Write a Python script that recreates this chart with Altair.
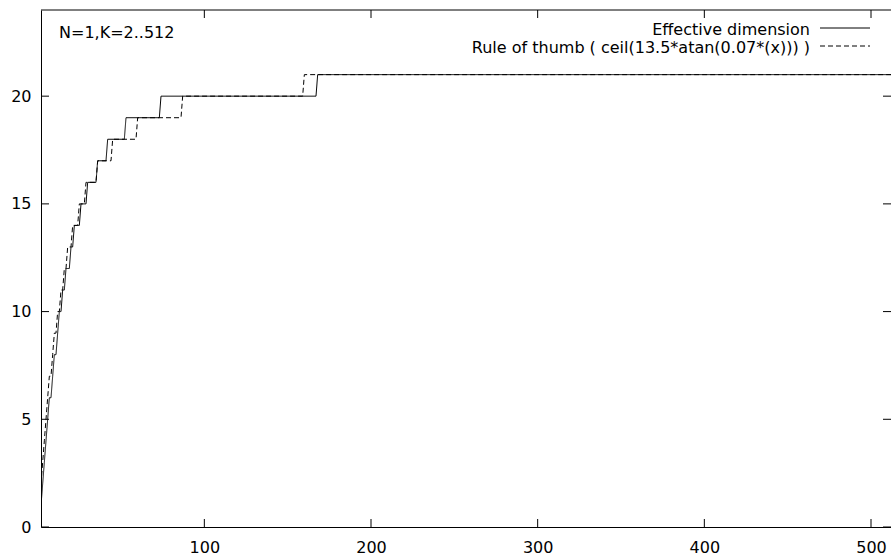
import altair as alt
import pandas as pd

# Effective dimension (corner points of the step curve)
eff_k = [2, 3, 4, 5, 6, 7, 8, 9, 10, 11, 12, 13, 14, 15, 16, 17, 19, 20, 21, 22, 25, 26, 29,
         30, 35, 36, 41, 42, 52, 53, 73, 74, 167, 168, 512]
eff_d = [1, 2, 3, 4, 5, 6, 6, 7, 8, 8, 9, 10, 10, 11, 11, 12, 12, 13, 13, 14, 14, 15, 15,
         16, 16, 17, 17, 18, 18, 19, 19, 20, 20, 21, 21]

# Rule of thumb (corner points of the step curve)
rule_k = [2, 3, 4, 5, 6, 7, 8, 9, 10, 11, 12, 13, 14, 15, 16, 17, 18, 20, 21, 24, 25, 28,
          29, 35, 36, 44, 45, 59, 60, 86, 87, 159, 160, 512]
rule_d = [2, 3, 4, 5, 6, 7, 7, 8, 9, 9, 10, 10, 11, 11, 12, 12, 13, 13, 14, 14, 15, 15,
          16, 16, 17, 17, 18, 18, 19, 19, 20, 20, 21, 21]

series_names = ["Effective dimension", "Rule of thumb ( ceil(13.5*atan(0.07*(x))) )"]
series_dash = [[1, 0], [5, 3]]
x_ticks = [100, 200, 300, 400, 500]
y_ticks = [0, 5, 10, 15, 20]
annotation = "N=1,K=2..512"

FONT = "DejaVu Sans"
FS = 16
W, H = 850, 517
TICK = 8

df = pd.concat([
    pd.DataFrame({"K": eff_k, "D": eff_d, "series": series_names[0]}),
    pd.DataFrame({"K": rule_k, "D": rule_d, "series": series_names[1]}),
], ignore_index=True)

xscale = alt.Scale(domain=[2, 512], nice=False, zero=False)
yscale = alt.Scale(domain=[0, 24], nice=False, zero=False)

lines = alt.Chart(df).mark_line(color="black", strokeWidth=1, clip=True).encode(
    x=alt.X("K:Q", scale=xscale, title=None,
            axis=alt.Axis(values=x_ticks, ticks=False, tickSize=0, labelPadding=12,
                          grid=False, domainColor="black", domainWidth=1)),
    y=alt.Y("D:Q", scale=yscale, title=None,
            axis=alt.Axis(values=y_ticks, ticks=False, tickSize=0, labelPadding=10,
                          grid=False, domainColor="black", domainWidth=1)),
    strokeDash=alt.StrokeDash("series:N",
                              scale=alt.Scale(domain=series_names, range=series_dash),
                              legend=None),
)

xt = pd.DataFrame({"K": x_ticks})
yt = pd.DataFrame({"D": y_ticks})

bottom_ticks = alt.Chart(xt).mark_rule(color="black", strokeWidth=1).encode(
    x=alt.X("K:Q", scale=xscale), y=alt.value(H), y2=alt.value(H - TICK))
top_ticks = alt.Chart(xt).mark_rule(color="black", strokeWidth=1).encode(
    x=alt.X("K:Q", scale=xscale), y=alt.value(0), y2=alt.value(TICK))
left_ticks = alt.Chart(yt).mark_rule(color="black", strokeWidth=1).encode(
    y=alt.Y("D:Q", scale=yscale), x=alt.value(0), x2=alt.value(TICK))
right_ticks = alt.Chart(yt).mark_rule(color="black", strokeWidth=1).encode(
    y=alt.Y("D:Q", scale=yscale), x=alt.value(W - TICK), x2=alt.value(W))

top_border = alt.Chart(pd.DataFrame({"a": [0]})).mark_rule(color="black", strokeWidth=1).encode(
    x=alt.value(0), x2=alt.value(W), y=alt.value(0))

note = alt.Chart(pd.DataFrame({"t": [annotation]})).mark_text(
    align="left", baseline="alphabetic", font=FONT, fontSize=FS, color="black"
).encode(text="t:N", x=alt.value(18), y=alt.value(28))

legend_layers = []
for i, (name, dash) in enumerate(zip(series_names, series_dash)):
    row = pd.DataFrame({"t": [name]})
    legend_layers.append(
        alt.Chart(row).mark_text(align="right", baseline="alphabetic", font=FONT,
                                 fontSize=FS, color="black")
        .encode(text="t:N", x=alt.value(769), y=alt.value(25 + 18 * i)))
    legend_layers.append(
        alt.Chart(row).mark_rule(color="black", strokeWidth=1, strokeDash=dash)
        .encode(x=alt.value(779), x2=alt.value(829), y=alt.value(18 + 18 * i)))

chart = alt.layer(lines, bottom_ticks, top_ticks, left_ticks, right_ticks, top_border,
                  note, *legend_layers).properties(
    width=W, height=H,
    padding={"left": 41, "top": 10, "right": 0, "bottom": 31},
    autosize=alt.AutoSizeParams(type="none"),
).configure_view(stroke=None).configure_axis(
    labelFont=FONT, labelFontSize=FS, labelColor="black",
)

chart.save("out.html", embed_options={"renderer": "svg", "actions": False})
